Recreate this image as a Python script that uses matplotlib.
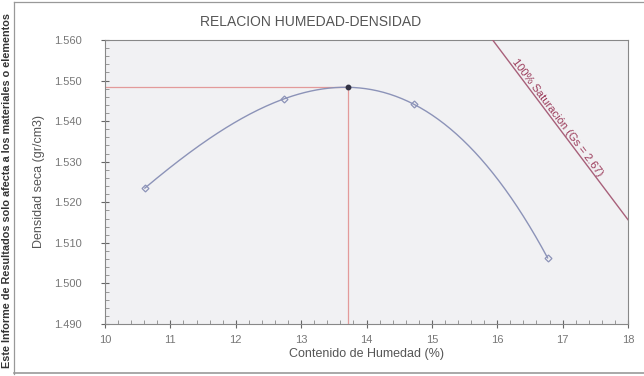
import numpy as np
import matplotlib.pyplot as plt
from matplotlib.ticker import MultipleLocator, FormatStrFormatter
from matplotlib.lines import Line2D

# ── Data ─────────────────────────────────────────────────────────────────────
humedad = [10.61, 12.74, 14.72, 16.77]          # %
densidad = [1.5235, 1.5455, 1.5442, 1.5063]      # gr/cm3

humedad_optima = 13.72
densidad_maxima = 1.5483

# 100% saturation line, two ends (x, y)
sat_x = [15.93, 18.0]
sat_y = [1.560, 1.5157]

plt.rcParams["font.family"] = ["Liberation Sans", "DejaVu Sans"]

fig = plt.figure(figsize=(6.44, 3.76), dpi=100)
ax = fig.add_axes([105 / 644, 1 - 324 / 376, (628 - 105) / 644, (324 - 40) / 376])
ax.set_facecolor("#f1f1f3")

# fitted curve through the points
coef = np.polyfit(humedad, densidad, 3)
xs = np.linspace(min(humedad), max(humedad), 200)
ax.plot(xs, np.polyval(coef, xs), color="#8c93b8", lw=1.0, zorder=3)
ax.plot(humedad, densidad, ls="none", marker="D", ms=3.5, mfc="none",
        mec="#8c93b8", mew=0.9, zorder=4)

# optimum point with reference lines
ax.plot([10, humedad_optima], [densidad_maxima, densidad_maxima], color="#e39a9a", lw=0.9, zorder=2)
ax.plot([humedad_optima, humedad_optima], [1.49, densidad_maxima], color="#e39a9a", lw=0.9, zorder=2)
ax.plot(humedad_optima, densidad_maxima, "o", color="#333344", ms=3.2, zorder=5)

# saturation line
ax.plot(sat_x, sat_y, color="#a8607a", lw=1.0, zorder=3)

ax.set_xlim(10, 18)
ax.set_ylim(1.49, 1.56)
ax.xaxis.set_major_locator(MultipleLocator(1))
ax.xaxis.set_minor_locator(MultipleLocator(0.2))
ax.yaxis.set_major_locator(MultipleLocator(0.01))
ax.yaxis.set_minor_locator(MultipleLocator(0.002))
ax.yaxis.set_major_formatter(FormatStrFormatter("%.3f"))
ax.tick_params(which="major", direction="inout", length=6, width=0.8, colors="#666666",
               labelsize=8, labelcolor="#777777")
ax.tick_params(which="minor", direction="in", length=3, width=0.6, colors="#888888")
ax.tick_params(axis="y", which="major", pad=14)
ax.tick_params(axis="x", which="major", pad=5)
for s in ax.spines.values():
    s.set_color("#888888")
    s.set_linewidth(0.8)

ax.set_xlabel("Contenido de Humedad (%)", fontsize=9, color="#555555", labelpad=2)
ax.set_ylabel("Densidad seca (gr/cm3)", fontsize=9, color="#555555", labelpad=6)

# label along the saturation line
p0 = ax.transData.transform((sat_x[0], sat_y[0]))
p1 = ax.transData.transform((sat_x[1], sat_y[1]))
ang = np.degrees(np.arctan2(p1[1] - p0[1], p1[0] - p0[0]))
tx = sat_x[0] + 0.45 * (sat_x[1] - sat_x[0])
ty = sat_y[0] + 0.45 * (sat_y[1] - sat_y[0])
ax.text(tx, ty, "100% Saturación (Gs = 2.67)", rotation=ang, rotation_mode="anchor",
        ha="center", va="bottom", fontsize=8, color="#9b3b5a", zorder=6)

fig.text(311 / 644, 1 - 22 / 376, "RELACION HUMEDAD-DENSIDAD", ha="center", va="center",
         fontsize=10, color="#555555")

# side note and outer frame
fig.text(7 / 644, 1 - 368 / 376,
         "Este Informe de Resultados solo afecta a los materiales o elementos",
         rotation=90, ha="center", va="bottom", fontsize=7.8, color="#333333", fontweight="bold")
fig.add_artist(Line2D([14 / 644, 14 / 644], [0.005, 0.995], color="#999999", lw=0.9))
fig.add_artist(Line2D([14 / 644, 1.0], [0.995, 0.995], color="#999999", lw=0.9))
fig.add_artist(Line2D([14 / 644, 1.0], [0.008, 0.008], color="#999999", lw=1.2))

fig.savefig("out.png", dpi=100)
